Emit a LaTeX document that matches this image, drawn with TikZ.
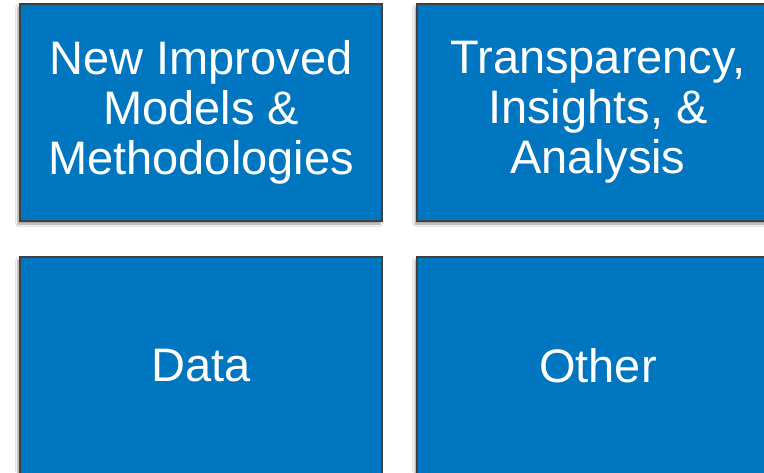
\documentclass[tikz,border=0pt]{standalone}
\usepackage{fontspec}
\setmainfont{Liberation Sans}
\usetikzlibrary{shadows.blur}
\definecolor{tileblue}{RGB}{0,118,192}
\definecolor{tileedge}{RGB}{64,64,64}
\tikzset{tile/.style={draw=tileedge,line width=2pt,fill=tileblue,text=white,
    minimum width=362pt,minimum height=217pt,align=center,
    font=\fontsize{47}{50}\selectfont,
    blur shadow={shadow xshift=-2pt,shadow yshift=-3pt,shadow blur steps=6}}}
\begin{document}
\begin{tikzpicture}[x=1pt,y=-1pt]
             \clip (0,0) rectangle (764,472);
             \fill[white] (0,0) rectangle (764,472);
             % tiles
             \node[tile] (models)  at (201,112.5) {New Improved\\Models \&\\Methodologies};
             \node[tile] (insight) at (598,112.5) {Transparency,\\Insights, \&\\Analysis};
             \node[tile] (data)    at (201,365.5) {Data};
             \node[tile] (other)   at (598,365.5) {Other};
\end{tikzpicture}
\end{document}
